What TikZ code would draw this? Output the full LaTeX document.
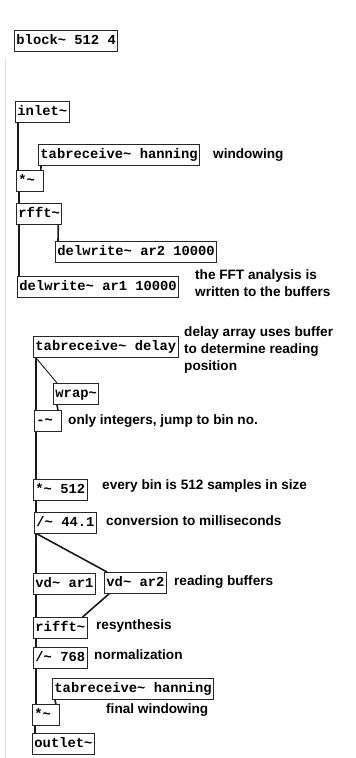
\documentclass[tikz,border=0pt]{standalone}
\usepackage{fontspec}
\setmainfont{Liberation Sans}
\newfontfamily\pdmono{Liberation Mono}
\usetikzlibrary{calc}
\tikzset{
  pdobj/.style={draw=black!85, line width=0.9pt, anchor=north west, inner xsep=2pt, inner ysep=0pt,
    minimum height=21pt, text height=10pt, text depth=3pt,
    font=\pdmono\bfseries\fontsize{13.8}{14}\selectfont},
  narrow/.style={text width=23pt, align=left},
  note/.style={anchor=west, inner sep=0pt, font=\bfseries\fontsize{13.6}{17}\selectfont, align=left},
  sig/.style={line width=1.6pt, black!90},
  ctl/.style={line width=0.9pt, black!90},
}
\begin{document}
\begin{tikzpicture}[x=1pt,y=-1pt]
\useasboundingbox[fill=white] (0,0) rectangle (356,758);
\draw[gray!25, line width=1pt] (5,58) -- (5,758);

% objects
\node[pdobj] (block) at (14,30) {block\char`~{} 512 4};
\node[pdobj] (inlet) at (15,101) {inlet\char`~};
\node[pdobj] (tabh1) at (38,144) {tabreceive\char`~{} hanning};
\node[pdobj,narrow] (mul1) at (16,170) {*\char`~};
\node[pdobj] (rfft) at (16,203) {rfft\char`~};
\node[pdobj] (dw2) at (55,241) {delwrite\char`~{} ar2 10000};
\node[pdobj] (dw1) at (17,276) {delwrite\char`~{} ar1 10000};
\node[pdobj] (tabd) at (33,336) {tabreceive\char`~{} delay};
\node[pdobj] (wrap) at (53,383) {wrap\char`~};
\node[pdobj,narrow] (minus) at (34,410) {-\char`~};
\node[pdobj] (mul512) at (33,479) {*\char`~{} 512};
\node[pdobj] (div441) at (34,512) {/\char`~{} 44.1};
\node[pdobj] (vd1) at (33,573) {vd\char`~{} ar1};
\node[pdobj] (vd2) at (104,572) {vd\char`~{} ar2};
\node[pdobj] (rifft) at (33,617) {rifft\char`~};
\node[pdobj] (div768) at (33,647) {/\char`~{} 768};
\node[pdobj] (tabh2) at (52,678) {tabreceive\char`~{} hanning};
\node[pdobj,narrow] (mul2) at (32,704) {*\char`~};
\node[pdobj] (outlet) at (32,733) {outlet\char`~};

% comments
\node[note] (c1) at (213,155) {windowing};
\node[note] (c2) at (195,283) {the FFT analysis is\\written to the buffers};
\node[note] (c3) at (184,350) {delay array uses buffer\\to determine reading\\position};
\node[note] (c4) at (68,421) {only integers, jump to bin no.};
\node[note] (c5) at (102,486) {every bin is 512 samples in size};
\node[note] (c6) at (106,521) {conversion to milliseconds};
\node[note] (c7) at (174,582) {reading buffers};
\node[note] (c8) at (96,626) {resynthesis};
\node[note] (c9) at (94,655) {normalization};
\node[note] (c10) at (106,710) {final windowing};

% connections
\draw[sig] ($(inlet.south west)+(3,0)$) -- ($(mul1.north west)+(2,0)$);
\draw[sig] ($(tabh1.south west)+(3,0)$) -- ($(mul1.north east)+(-3,0)$);
\draw[sig] ($(mul1.south west)+(3,0)$) -- ($(rfft.north west)+(3,0)$);
\draw[sig] ($(rfft.south west)+(3,0)$) -- ($(dw1.north west)+(2,0)$);
\draw[sig] ($(rfft.south east)+(-4,0)$) -- ($(dw2.north west)+(3,0)$);
\draw[ctl] ($(tabd.south west)+(3,0)$) -- ($(wrap.north west)+(4,0)$);
\draw[sig] ($(tabd.south west)+(3,0)$) -- ($(minus.north west)+(2,0)$);
\draw[sig] ($(wrap.south west)+(4,0)$) -- ($(minus.north east)+(-4,0)$);
\draw[sig] ($(minus.south west)+(2,0)$) -- ($(mul512.north west)+(3,0)$);
\draw[sig] ($(mul512.south west)+(3,0)$) -- ($(div441.north west)+(2,0)$);
\draw[sig] ($(div441.south west)+(2,0)$) -- ($(vd1.north west)+(3,0)$);
\draw[sig] ($(div441.south west)+(3,0)$) -- ($(vd2.north west)+(3,0)$);
\draw[sig] ($(vd1.south west)+(3,0)$) -- ($(rifft.north west)+(3,0)$);
\draw[sig] ($(vd2.south west)+(5,0)$) -- ($(rifft.north east)+(-5,0)$);
\draw[sig] ($(rifft.south west)+(3,0)$) -- ($(div768.north west)+(3,0)$);
\draw[sig] ($(div768.south west)+(3,0)$) -- ($(mul2.north west)+(4,0)$);
\draw[sig] ($(tabh2.south west)+(3,0)$) -- ($(mul2.north east)+(-4,0)$);
\draw[sig] ($(mul2.south west)+(3,0)$) -- ($(outlet.north west)+(3,0)$);
\end{tikzpicture}
\end{document}
